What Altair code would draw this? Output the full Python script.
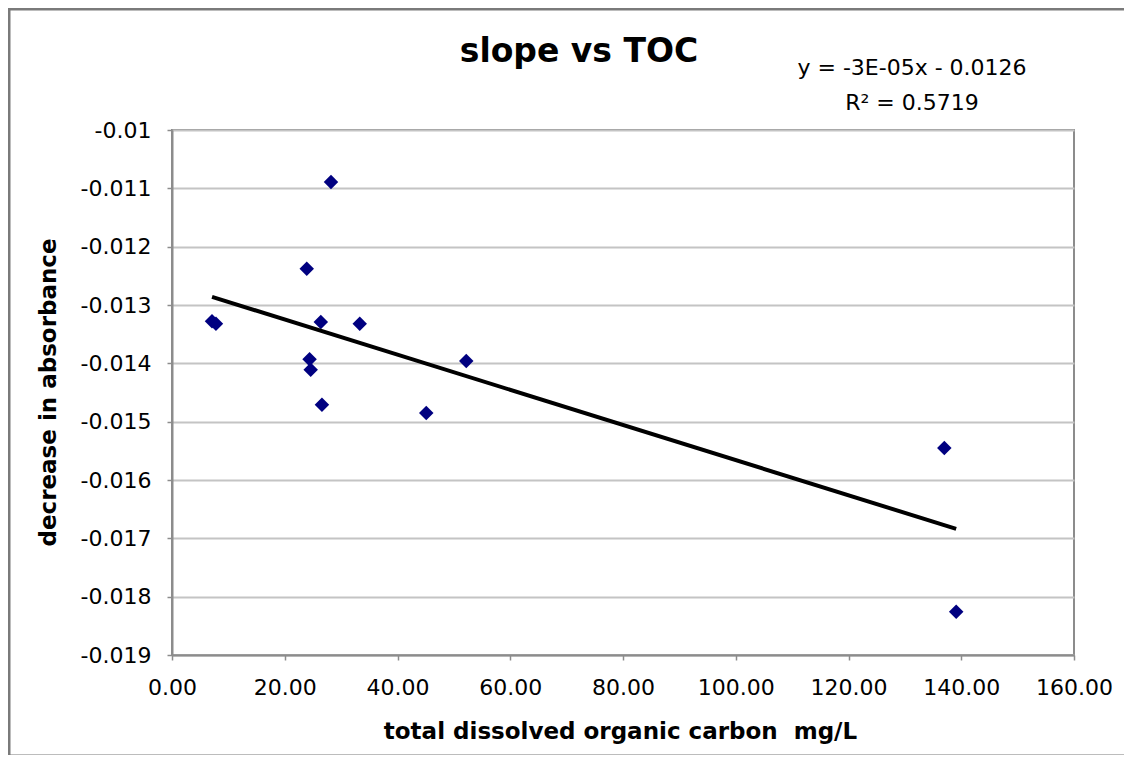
import altair as alt
import pandas as pd

toc = [7.1, 7.8, 28.2, 23.9, 26.4, 33.3, 24.4, 24.6, 26.6, 45.1, 52.2, 137.0, 139.1]
slope = [-0.01328, -0.01332, -0.01089, -0.01238, -0.01329, -0.01332, -0.01393,
         -0.01411, -0.01471, -0.01485, -0.01396, -0.01545, -0.01826]
y_ticks = [-0.01, -0.011, -0.012, -0.013, -0.014, -0.015, -0.016, -0.017, -0.018, -0.019]
x_ticks = [0, 20, 40, 60, 80, 100, 120, 140, 160]
chart_title = "slope vs TOC"
equation_lines = ["y = -3E-05x - 0.0126", "R\u00b2 = 0.5719"]

df = pd.DataFrame({"toc": toc, "slope": slope})
FONT = "DejaVu Sans"

xenc = alt.X("toc:Q", scale=alt.Scale(domain=[0, 160], nice=False),
             axis=alt.Axis(values=x_ticks, format=".2f", grid=False,
                           labelOverlap=False, labelFlush=False,
                           title="total dissolved organic carbon\u00a0 mg/L",
                           titleX=448, titleY=83, titleBaseline="alphabetic",
                           labelPadding=17))
yenc = alt.Y("slope:Q", scale=alt.Scale(domain=[-0.019, -0.01], nice=False, zero=False),
             axis=alt.Axis(values=y_ticks, grid=True, labelOverlap=False, labelFlush=False,
                           labelExpr="replace(format(datum.value, '.3~f'), '\u2212', '-')",
                           title="decrease in absorbance",
                           titleX=-117, titleY=262, titleBaseline="alphabetic",
                           labelPadding=16))

points = alt.Chart(df).mark_point(shape="diamond", filled=True, size=210,
                                   color="#000080", opacity=1).encode(x=xenc, y=yenc)

trend = alt.Chart(df).transform_regression("toc", "slope").mark_line(
    color="black", strokeWidth=4).encode(x="toc:Q", y="slope:Q")

def label(text, x, y, size, weight="normal", baseline="middle"):
    return alt.Chart(pd.DataFrame({"t": [text]})).mark_text(
        font=FONT, fontSize=size, fontWeight=weight, color="black",
        align="center", baseline=baseline).encode(
        text="t:N", x=alt.value(x), y=alt.value(y))

title = label(chart_title, 407, -68, 33, "bold", "alphabetic")
eq1 = label(equation_lines[0], 740, -62, 22)
eq2 = label(equation_lines[1], 740, -27, 22)

frame = alt.Chart(alt.Data(values=[{}])).mark_rect(
    filled=False, stroke="#7a7a7a", strokeWidth=3).encode(
    x=alt.value(-163), x2=alt.value(1000), y=alt.value(-121), y2=alt.value(626))

chart = alt.layer(frame, points, trend, title, eq1, eq2).properties(
    width=902, height=525,
    autosize=alt.AutoSizeParams(type="none"),
    padding={"left": 164, "top": 122, "right": 50, "bottom": 100},
).configure_view(stroke="#8c8c8c", strokeWidth=2).configure_axis(
    labelFont=FONT, labelFontSize=22, labelColor="black",
    titleFont=FONT, titleFontSize=23, titleFontWeight="bold", titleColor="black",
    domainColor="#8c8c8c", domainWidth=2, tickColor="#8c8c8c", tickSize=5, tickWidth=1.5,
    gridColor="#c4c4c4", gridWidth=2,
)

chart.save("out.html", embed_options={"renderer": "svg", "actions": False})
